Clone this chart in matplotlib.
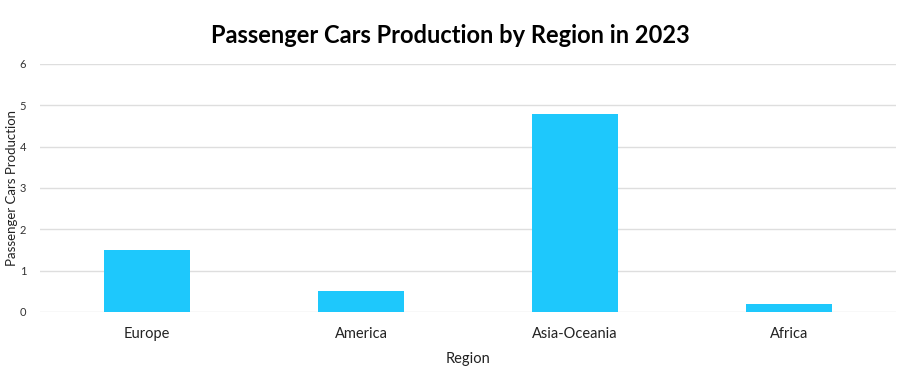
import matplotlib
matplotlib.use("Agg")
import matplotlib.pyplot as plt

regions = ["Europe", "America", "Asia-Oceania", "Africa"]
production = [1.5, 0.5, 4.8, 0.2]

plt.rcParams["font.family"] = ["Lato", "DejaVu Sans"]

fig = plt.figure(figsize=(9.07, 3.73), dpi=100)
ax = fig.add_axes([40 / 907, 61 / 373, 856 / 907, 248 / 373])

ax.bar(regions, production, width=0.4, color="#1ec8fc", zorder=3)

ax.set_xlim(-0.5, 3.5)
ax.set_ylim(0, 6)
ax.set_yticks(range(0, 7))
ax.grid(axis="y", color="#dedede", linewidth=1, zorder=0)
for s in ax.spines.values():
    s.set_visible(False)
ax.tick_params(axis="both", length=0)
ax.tick_params(axis="y", labelsize=8, colors="#333333", pad=10)
ax.tick_params(axis="x", labelsize=10.5, colors="#222222", pad=11)

ax.set_xlabel("Region", fontsize=10.5, color="#222222", labelpad=8)
ax.set_ylabel("Passenger Cars Production", fontsize=9.5, color="#222222")
ax.yaxis.set_label_coords(-22 / 856, 0.5)
fig.suptitle("Passenger Cars Production by Region in 2023", fontsize=17,
             fontweight="bold", y=0.935, x=0.497)

fig.savefig("out.png", dpi=100)
